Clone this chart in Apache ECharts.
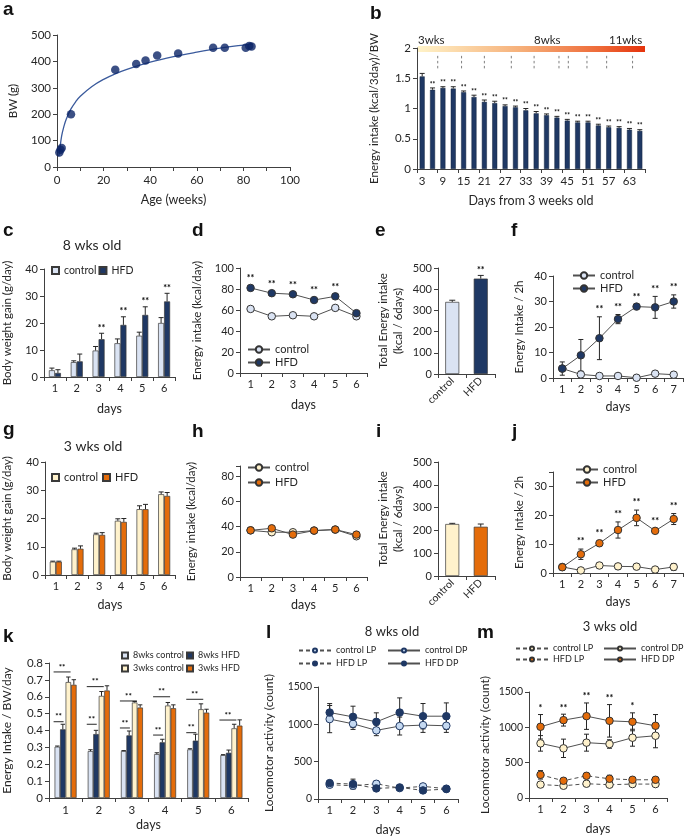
<!DOCTYPE html>
<html><head><meta charset="utf-8">
<script src="https://cdn.jsdelivr.net/npm/echarts@6/dist/echarts.min.js"></script>
<style>html,body{margin:0;padding:0;background:#fff}#c{width:685px;height:837px}</style>
</head><body><div id="c"></div>
<script>
// ---------------- DATA ----------------
// a
const aAge = [1, 1.5, 2, 6, 25, 34, 38, 43, 52, 67, 72, 81, 82.5, 83.5];
const aBW = [55, 65, 72, 200, 368, 390, 403, 422, 430, 452, 452, 452, 458, 456];
const aFitAge = [0.7, 1, 2, 3, 4, 6, 8, 10, 15, 20, 25, 30, 40, 50, 60, 70, 80, 84];
const aFitBW = [40, 55, 118, 155, 182, 220, 247, 268, 305, 332, 353, 370, 397, 418, 435, 450, 462, 466];
// b
const bDays = ['3','6','9','12','15','18','21','24','27','30','33','36','39','42','45','48','51','54','57','60','63','66'];
const bVals = [1.53,1.31,1.34,1.33,1.27,1.19,1.11,1.09,1.04,1.02,0.97,0.92,0.89,0.85,0.80,0.77,0.77,0.72,0.69,0.68,0.65,0.63];
const bErr = [0.05,0.03,0.02,0.03,0.02,0.03,0.03,0.03,0.02,0.02,0.03,0.03,0.02,0.02,0.02,0.02,0.02,0.02,0.02,0.02,0.02,0.02];
const bSig = ['','**','**','**','**','**','**','**','**','**','**','**','**','**','**','**','**','**','**','**','**','**'];
const bWeekMarks = [2.0, 4.3, 6.5, 9.1, 11.3, 13.7, 14.6, 16.4, 18.3, 20.8];
const bAgeLabels = ['3wks', '8wks', '11wks'];
// shared
const days6 = ['1','2','3','4','5','6'];
const days7 = ['1','2','3','4','5','6','7'];
const groups = ['control', 'HFD'];
// c
const cCtrl = [2.5, 5.5, 9.8, 12.5, 15.3, 20.0];
const cCtrlErr = [0.8, 0.5, 1.5, 1.6, 1.3, 2.0];
const cHFD = [1.5, 5.8, 14.0, 19.3, 23.0, 28.0];
const cHFDErr = [1.2, 2.7, 2.2, 3.0, 3.0, 3.0];
const cSig = ['', '', '**', '**', '**', '**'];
// d
const dCtrl = [61, 54, 55, 54, 62, 54];
const dHFD = [81, 76, 75, 69.5, 73, 57];
const dSig = ['**', '**', '**', '**', '**', ''];
// e
const eVals = [340, 450];
const eErr = [8, 15];
const eSig = ['', '**'];
// f
const fCtrl = [3.7, 1.4, 0.8, 0.8, 0.1, 1.7, 1.3];
const fCtrlErr = [0.5, 0.4, 0.3, 0.3, 0.2, 0.6, 0.4];
const fHFD = [3.7, 8.9, 15.6, 23.1, 28.0, 27.7, 30.0];
const fHFDErr = [2.6, 6.2, 8.4, 1.8, 0.8, 4.3, 2.6];
const fSig = ['', '', '**', '**', '**', '**', '**'];
// g
const gCtrl = [4.7, 9.1, 14.4, 19.2, 23.3, 28.6];
const gCtrlErr = [0.2, 0.4, 0.4, 0.7, 1.2, 0.8];
const gHFD = [4.7, 9.3, 14.2, 18.8, 23.3, 28.0];
const gHFDErr = [0.2, 1.0, 0.8, 1.2, 1.7, 1.2];
// h
const hCtrl = [37, 35.5, 35.5, 36.8, 37.6, 32.3];
const hHFD = [37, 38.6, 33.6, 36.8, 37.6, 33.6];
// i
const iVals = [228, 216];
const iErr = [3, 12];
// j
const jCtrl = [2.1, 0.9, 2.6, 2.3, 2.2, 1.2, 2.1];
const jCtrlErr = [0.6, 0.5, 1.0, 1.0, 1.0, 0.5, 1.2];
const jHFD = [2.0, 6.5, 10.3, 14.9, 19.1, 14.6, 18.7];
const jHFDErr = [1.0, 1.8, 1.0, 2.8, 2.7, 0.8, 1.9];
const jSig = ['', '**', '**', '**', '**', '**', '**'];
// k
const k8Ctrl = [0.304, 0.278, 0.278, 0.260, 0.288, 0.254];
const k8CtrlErr = [0.004, 0.008, 0.003, 0.008, 0.004, 0.003];
const k8HFD = [0.407, 0.379, 0.371, 0.330, 0.340, 0.268];
const k8HFDErr = [0.030, 0.022, 0.026, 0.018, 0.038, 0.016];
const k3Ctrl = [0.687, 0.605, 0.566, 0.548, 0.526, 0.413];
const k3CtrlErr = [0.030, 0.026, 0.006, 0.018, 0.032, 0.024];
const k3HFD = [0.671, 0.637, 0.536, 0.532, 0.506, 0.429];
const k3HFDErr = [0.030, 0.028, 0.016, 0.020, 0.020, 0.034];
const kBrLow = [0.452, 0.437, 0.415, 0.373, 0.387, null];
const kBrUp = [0.747, 0.660, 0.575, 0.600, 0.585, 0.462];
// l
const lCtrlLP = [191, 178, 204, 146, 169, 138];
const lCtrlLPErr = [30, 40, 40, 25, 30, 25];
const lHFDLP = [213, 200, 142, 155, 115, 133];
const lHFDLPErr = [30, 66, 30, 25, 30, 25];
const lCtrlDP = [1070, 1007, 919, 977, 990, 981];
const lCtrlDPErr = [182, 75, 71, 120, 98, 89];
const lHFDDP = [1158, 1100, 1033, 1158, 1109, 1109];
const lHFDDPErr = [120, 143, 121, 196, 170, 178];
// m
const mCtrlLP = [190, 173, 202, 188, 197, 197];
const mCtrlLPErr = [35, 35, 40, 30, 30, 30];
const mHFDLP = [328, 244, 314, 272, 258, 258];
const mHFDLPErr = [60, 35, 40, 50, 35, 40];
const mCtrlDP = [773, 703, 783, 764, 853, 881];
const mCtrlDPErr = [110, 130, 120, 60, 120, 170];
const mHFDDP = [1008, 1102, 1158, 1092, 1078, 1022];
const mHFDDPErr = [173, 84, 187, 230, 127, 159];
const mSig = ['*', '**', '**', '**', '*', ''];

// ---------------- STYLE / HELPERS ----------------
const FONT = 'Lato, "Open Sans", "DejaVu Sans", sans-serif';
const AX = '#404040', TXT = '#262626';
const NAVY = '#1f3864', LBLUE = '#dae3f3', LBLUE2 = '#c5d9f1', CREAM = '#fff2cc', ORANGE = '#e46c0a';

const grids = [], xAxes = [], yAxes = [], series = [], legends = [], graphics = [];
function lbl(sz) { return { color: TXT, fontSize: sz || 11, fontFamily: FONT }; }
function merge(a, b) {
  if (!b) return a;
  for (const k in b) {
    if (b[k] && typeof b[k] === 'object' && !Array.isArray(b[k]) && a[k] && typeof a[k] === 'object') merge(a[k], b[k]);
    else a[k] = b[k];
  }
  return a;
}
const plain = v => String(v);
function addGrid(left, top, width, height) { grids.push({ left, top, width, height, containLabel: false }); return grids.length - 1; }
function xCat(gi, cats, name, gap, extra) {
  xAxes.push(merge({ type: 'category', gridIndex: gi, data: cats, boundaryGap: true,
    axisLine: { show: true, lineStyle: { color: AX } }, axisTick: { show: true, length: 4, lineStyle: { color: AX } },
    axisLabel: merge(lbl(11), { margin: 6 }), splitLine: { show: false },
    name: name || '', nameLocation: 'middle', nameGap: gap || 25, nameTextStyle: lbl(12.5) }, extra));
  return xAxes.length - 1;
}
function yVal(gi, min, max, interval, name, gap, extra) {
  yAxes.push(merge({ type: 'value', gridIndex: gi, min, max, interval,
    axisLine: { show: true, lineStyle: { color: AX } }, axisTick: { show: true, length: 4, lineStyle: { color: AX } },
    axisLabel: merge(lbl(11), { margin: 6, formatter: plain }), splitLine: { show: false },
    name: name || '', nameLocation: 'middle', nameGap: gap, nameRotate: 90, nameTextStyle: lbl(11.5) }, extra));
  return yAxes.length - 1;
}
function barS(name, xi, yi, data, color, width, extra) {
  series.push(merge({ type: 'bar', name, xAxisIndex: xi, yAxisIndex: yi, data, barWidth: width, barGap: '0%', z: 2,
    itemStyle: { color, borderColor: '#3a3a3a', borderWidth: 0.7 }, emphasis: { disabled: true }, silent: true }, extra));
}
function lineS(name, xi, yi, data, fill, opt) {
  opt = opt || {};
  series.push({ type: 'line', name, xAxisIndex: xi, yAxisIndex: yi, data, symbol: 'circle', symbolSize: opt.size || 7.5,
    showSymbol: true, z: 4, silent: true,
    lineStyle: { color: opt.lineColor || '#505050', width: 1, type: opt.dash ? [4, 3] : 'solid' },
    itemStyle: { color: fill, borderColor: opt.border || '#333', borderWidth: 1 }, emphasis: { disabled: true } });
}
function errBars(xi, yi, vals, errs, o) {
  o = o || {};
  series.push({ type: 'custom', xAxisIndex: xi, yAxisIndex: yi, z: o.z || 5, silent: true,
    data: vals.map((v, i) => [i, v, errs ? errs[i] : 0]), encode: { x: 0, y: 1 },
    renderItem(params, api) {
      const i = api.value(0), v = api.value(1), e = api.value(2);
      const base = api.coord([i, v]);
      const x = base[0] + (o.off || 0);
      const top = api.coord([i, v + e])[1];
      const bot = o.both ? api.coord([i, v - e])[1] : base[1];
      const c = o.cap || 2.5;
      const st = { stroke: o.color || '#262626', lineWidth: 1 };
      const ch = [];
      if (e > 0) {
        ch.push({ type: 'line', shape: { x1: x, y1: top, x2: x, y2: bot }, style: st });
        ch.push({ type: 'line', shape: { x1: x - c, y1: top, x2: x + c, y2: top }, style: st });
        if (o.both) ch.push({ type: 'line', shape: { x1: x - c, y1: bot, x2: x + c, y2: bot }, style: st });
      }
      const s = o.sig && o.sig[params.dataIndex];
      if (s) ch.push({ type: 'text', style: { text: s, x: x, y: Math.min(top, base[1] - (o.sigMin || 0)) - (o.sigGap == null ? 1 : o.sigGap),
        textAlign: 'center', textVerticalAlign: 'bottom', fill: '#000', font: 'bold ' + (o.sigSize || 9) + 'px ' + FONT } });
      return { type: 'group', children: ch };
    } });
}
function legend(names, left, top, o) {
  legends.push(merge({ data: names, left, top, orient: 'vertical', padding: 0, itemGap: 2, itemWidth: 22, itemHeight: 8,
    selectedMode: false, textStyle: lbl(11), formatter: n => n.split('|')[1] }, o));
}
function text(t, x, y, font, align, extra) {
  graphics.push(merge({ type: 'text', silent: true, style: { text: t, x, y, font, fill: TXT, textAlign: align || 'left', textVerticalAlign: 'middle' } }, extra));
}

// ---------------- PANEL a ----------------
{
  const g = addGrid(57, 35, 233, 132);
  const xi = xAxes.push({ type: 'value', gridIndex: g, min: 0, max: 100, interval: 20,
    axisLine: { show: true, lineStyle: { color: AX } }, axisTick: { show: true, length: 4, lineStyle: { color: AX } },
    minorTick: { show: true, splitNumber: 2, length: 4, lineStyle: { color: AX } },
    axisLabel: merge(lbl(11.5), { margin: 7 }), splitLine: { show: false },
    name: 'Age (weeks)', nameLocation: 'middle', nameGap: 26, nameTextStyle: lbl(12.5) }) - 1;
  const yi = yVal(g, 0, 500, 100, 'BW (g)', 38, { axisLabel: { fontSize: 11.5 } });
  series.push({ type: 'line', xAxisIndex: xi, yAxisIndex: yi, data: aFitAge.map((a, i) => [a, aFitBW[i]]), smooth: 0.4,
    showSymbol: false, silent: true, z: 2, lineStyle: { color: '#3a5a9c', width: 1.3 } });
  series.push({ type: 'scatter', xAxisIndex: xi, yAxisIndex: yi, data: aAge.map((a, i) => [a, aBW[i]]), symbolSize: 8.5,
    silent: true, z: 3, itemStyle: { color: '#0b2466' } });
}
// ---------------- PANEL b ----------------
{
  const g = addGrid(417, 48, 228, 121);
  const xi = xCat(g, bDays, 'Days from 3 weeks old', 25, { axisLabel: { interval: 1, fontSize: 11.5 }, axisTick: { interval: 1 } });
  const yi = yVal(g, 0, 2, 0.5, 'Energy intake (kcal/3day)/BW', 37, { axisLabel: { fontSize: 11.5 } });
  const xh = xAxes.push({ type: 'value', gridIndex: g, min: 0, max: 22, show: false }) - 1;
  barS('b|bars', xi, yi, bVals, NAVY, 5, { itemStyle: { borderColor: '#16263f', borderWidth: 0.5 } });
  errBars(xi, yi, bVals, bErr, { sig: bSig, sigSize: 6.5, sigGap: 0, cap: 2.5 });
  series.push({ type: 'custom', xAxisIndex: xh, yAxisIndex: yi, silent: true, z: 3,
    data: bWeekMarks.map(p => [p, 1.87]), encode: { x: 0, y: 1 },
    renderItem(params, api) {
      const p1 = api.coord([api.value(0), 1.87]), p2 = api.coord([api.value(0), 1.64]);
      return { type: 'line', shape: { x1: p1[0], y1: p1[1], x2: p2[0], y2: p2[1] }, style: { stroke: '#7f7f7f', lineWidth: 1, lineDash: [2.5, 2.5] } };
    } });
  graphics.push({ type: 'rect', silent: true, shape: { x: 418, y: 46, width: 227, height: 6 },
    style: { fill: new echarts.graphic.LinearGradient(0, 0, 1, 0, [
      { offset: 0, color: '#fff3c8' }, { offset: 0.45, color: '#f6b07a' }, { offset: 0.8, color: '#ee6a38' }, { offset: 1, color: '#e5330c' }]) } });
  text(bAgeLabels[0], 418, 40, '11.5px ' + FONT);
  text(bAgeLabels[1], 534, 40, '11.5px ' + FONT);
  text(bAgeLabels[2], 609, 40, '11.5px ' + FONT);
}
// ---------------- PANEL c ----------------
{
  const g = addGrid(41, 269, 134, 108);
  const xi = xCat(g, days6, 'days', 25);
  const yi = yVal(g, 0, 40, 10, 'Body weight gain (g/day)', 31);
  barS('c|control', xi, yi, cCtrl, LBLUE, 6);
  barS('c|HFD', xi, yi, cHFD, NAVY, 6);
  errBars(xi, yi, cCtrl, cCtrlErr, { off: -3, cap: 2.5 });
  errBars(xi, yi, cHFD, cHFDErr, { off: 3, cap: 2.5, sig: cSig, sigSize: 9 });
  legends.push({ data: ['c|control', 'c|HFD'], left: 51, top: 265, orient: 'horizontal', padding: 0, itemGap: 2, itemWidth: 7, itemHeight: 7,
    icon: 'rect', selectedMode: false, textStyle: lbl(10.5), formatter: n => n.split('|')[1] });
  text('8 wks old', 92, 245, '14px ' + FONT, 'center');
}
// ---------------- PANEL d ----------------
{
  const g = addGrid(240, 268, 127, 105);
  const xi = xCat(g, days6, 'days', 25);
  const yi = yVal(g, 0, 100, 20, 'Energy intake (kcal/day)', 37);
  lineS('d|control', xi, yi, dCtrl, LBLUE);
  lineS('d|HFD', xi, yi, dHFD, NAVY);
  errBars(xi, yi, dHFD, null, { sig: dSig, sigMin: 4, sigGap: 1 });
  legend(['d|control', 'd|HFD'], 247, 344, {});
}
// ---------------- PANEL e ----------------
{
  const g = addGrid(438, 268, 57, 106);
  const xi = xCat(g, groups, '', 0, { axisLabel: { rotate: 45, fontSize: 10.5, margin: 5 } });
  const yi = yVal(g, 0, 500, 100, 'Total Energy intake\n(kcal / 6days)', 32, { nameTextStyle: { lineHeight: 15 } });
  series.push({ type: 'bar', xAxisIndex: xi, yAxisIndex: yi, barWidth: 14, z: 2, silent: true,
    data: eVals.map((v, i) => ({ value: v, itemStyle: { color: i ? NAVY : LBLUE } })),
    itemStyle: { borderColor: '#3a3a3a', borderWidth: 0.7 } });
  errBars(xi, yi, eVals, eErr, { cap: 3, sig: eSig, sigSize: 9 });
}
// ---------------- PANEL f ----------------
{
  const g = addGrid(553, 276, 130, 102);
  const xi = xCat(g, days7, 'days', 22);
  const yi = yVal(g, 0, 40, 10, 'Energy Intake / 2h', 28);
  errBars(xi, yi, fCtrl, fCtrlErr, { both: true, z: 3 });
  errBars(xi, yi, fHFD, fHFDErr, { both: true, z: 3, sig: fSig, sigSize: 9, sigGap: 3 });
  lineS('f|control', xi, yi, fCtrl, LBLUE);
  lineS('f|HFD', xi, yi, fHFD, NAVY);
  legend(['f|control', 'f|HFD'], 572, 270, {});
}
// ---------------- PANEL g ----------------
{
  const g = addGrid(42, 462, 133, 113);
  const xi = xCat(g, days6, 'days', 23);
  const yi = yVal(g, 0, 40, 10, 'Body weight gain (g/day)', 32);
  barS('g|control', xi, yi, gCtrl, CREAM, 6);
  barS('g|HFD', xi, yi, gHFD, ORANGE, 6);
  errBars(xi, yi, gCtrl, gCtrlErr, { off: -3 });
  errBars(xi, yi, gHFD, gHFDErr, { off: 3 });
  legends.push({ data: ['g|control', 'g|HFD'], left: 51, top: 472, orient: 'horizontal', padding: 0, itemGap: 4, itemWidth: 7, itemHeight: 7,
    icon: 'rect', selectedMode: false, textStyle: lbl(11), formatter: n => n.split('|')[1] });
  text('3 wks old', 93, 446, '14px ' + FONT, 'center');
}
// ---------------- PANEL h ----------------
{
  const g = addGrid(240, 466, 127, 111);
  const xi = xCat(g, days6, 'days', 21);
  const yi = yVal(g, 0, 88, 20, 'Energy intake (kcal/day)', 43, { axisLabel: { formatter: v => (v % 20 === 0 ? String(v) : '') } });
  lineS('h|control', xi, yi, hCtrl, CREAM);
  lineS('h|HFD', xi, yi, hHFD, ORANGE);
  legend(['h|control', 'h|HFD'], 247, 462, { itemGap: 4 });
}
// ---------------- PANEL i ----------------
{
  const g = addGrid(438, 462, 57, 114);
  const xi = xCat(g, groups, '', 0, { axisLabel: { rotate: 45, fontSize: 10.5, margin: 5 } });
  const yi = yVal(g, 0, 500, 100, 'Total Energy intake\n(kcal / 6days)', 32, { nameTextStyle: { lineHeight: 15 } });
  series.push({ type: 'bar', xAxisIndex: xi, yAxisIndex: yi, barWidth: 14, z: 2, silent: true,
    data: iVals.map((v, i) => ({ value: v, itemStyle: { color: i ? ORANGE : CREAM } })),
    itemStyle: { borderColor: '#3a3a3a', borderWidth: 0.7 } });
  errBars(xi, yi, iVals, iErr, { cap: 3 });
}
// ---------------- PANEL j ----------------
{
  const g = addGrid(553, 472, 130, 101);
  const xi = xCat(g, days7, 'days', 22);
  const yi = yVal(g, 0, 35, 10, 'Energy Intake / 2h', 28, { axisLabel: { formatter: v => (v % 10 === 0 ? String(v) : '') } });
  errBars(xi, yi, jCtrl, jCtrlErr, { both: true, z: 3 });
  errBars(xi, yi, jHFD, jHFDErr, { both: true, z: 3, sig: jSig, sigSize: 9, sigGap: 3 });
  lineS('j|control', xi, yi, jCtrl, CREAM);
  lineS('j|HFD', xi, yi, jHFD, ORANGE);
  legend(['j|control', 'j|HFD'], 575, 464, {});
}
// ---------------- PANEL k ----------------
{
  const g = addGrid(49, 663, 199, 135);
  const xi = xCat(g, days6, 'days', 20, { axisLabel: { fontSize: 11.5 } });
  const yi = yVal(g, 0, 0.8, 0.1, 'Energy Intake / BW/day', 36, { axisLabel: { fontSize: 11.5 }, nameTextStyle: { fontSize: 12 } });
  barS('k|8wks control', xi, yi, k8Ctrl, LBLUE, 5.5);
  barS('k|8wks HFD', xi, yi, k8HFD, NAVY, 5.5);
  barS('k|3wks control', xi, yi, k3Ctrl, CREAM, 5.5);
  barS('k|3wks HFD', xi, yi, k3HFD, ORANGE, 5.5);
  errBars(xi, yi, k8Ctrl, k8CtrlErr, { off: -8.25, cap: 2.2 });
  errBars(xi, yi, k8HFD, k8HFDErr, { off: -2.75, cap: 2.2 });
  errBars(xi, yi, k3Ctrl, k3CtrlErr, { off: 2.75, cap: 2.2 });
  errBars(xi, yi, k3HFD, k3HFDErr, { off: 8.25, cap: 2.2 });
  series.push({ type: 'custom', xAxisIndex: xi, yAxisIndex: yi, silent: true, z: 6,
    data: kBrUp.map((v, i) => [i, v]), encode: { x: 0, y: 1 },
    renderItem(params, api) {
      const i = api.value(0), up = api.value(1), low = kBrLow[params.dataIndex];
      const cx = api.coord([i, 0])[0];
      const ch = [];
      const st = { stroke: '#262626', lineWidth: 1 };
      const add = (val, x1, x2) => {
        const y = api.coord([i, val])[1];
        ch.push({ type: 'line', shape: { x1, y1: y, x2, y2: y }, style: st });
        ch.push({ type: 'text', style: { text: '**', x: (x1 + x2) / 2, y: y - 1, textAlign: 'center', textVerticalAlign: 'bottom', fill: '#000', font: 'bold 8px ' + FONT } });
      };
      add(up, cx - 12, cx + 5);
      if (low != null) add(low, cx - 12, cx - 2);
      return { type: 'group', children: ch };
    } });
  legend(['k|8wks control', 'k|3wks control'], 121, 651, { icon: 'rect', itemWidth: 6, itemHeight: 6, itemGap: 4, textStyle: { fontSize: 9 } });
  legend(['k|8wks HFD', 'k|3wks HFD'], 186, 651, { icon: 'rect', itemWidth: 6, itemHeight: 6, itemGap: 4, textStyle: { fontSize: 9 } });
}
// ---------------- PANEL l ----------------
{
  const g = addGrid(318, 687, 140, 112);
  const xi = xCat(g, days6, 'days', 24, { axisLabel: { fontSize: 11 } });
  const yi = yVal(g, 0, 1500, 500, 'Locomotor activity (count)', 43, { axisLabel: { fontSize: 10.5 }, nameTextStyle: { fontSize: 12 } });
  errBars(xi, yi, lCtrlLP, lCtrlLPErr, { both: true, z: 3 });
  errBars(xi, yi, lHFDLP, lHFDLPErr, { both: true, z: 3 });
  errBars(xi, yi, lCtrlDP, lCtrlDPErr, { both: true, z: 3 });
  errBars(xi, yi, lHFDDP, lHFDDPErr, { both: true, z: 3 });
  lineS('l|control LP', xi, yi, lCtrlLP, LBLUE2, { dash: true, border: NAVY });
  lineS('l|HFD LP', xi, yi, lHFDLP, NAVY, { dash: true, border: NAVY });
  lineS('l|control DP', xi, yi, lCtrlDP, LBLUE2, { border: NAVY });
  lineS('l|HFD DP', xi, yi, lHFDDP, NAVY, { border: NAVY });
  legend(['l|control LP', 'l|HFD LP'], 298, 646, { itemWidth: 32, itemHeight: 5, itemGap: 4, textStyle: { fontSize: 9 } });
  legend(['l|control DP', 'l|HFD DP'], 387, 646, { itemWidth: 32, itemHeight: 5, itemGap: 4, textStyle: { fontSize: 9 } });
  text('8 wks old', 392, 632, '13px ' + FONT, 'center');
}
// ---------------- PANEL m ----------------
{
  const g = addGrid(529, 692, 138, 106);
  const xi = xCat(g, days6, 'days', 24, { axisLabel: { fontSize: 11 } });
  const yi = yVal(g, 0, 1500, 500, 'Locomotor activity (count)', 38, { axisLabel: { fontSize: 10.5 }, nameTextStyle: { fontSize: 12 } });
  errBars(xi, yi, mCtrlLP, mCtrlLPErr, { both: true, z: 3 });
  errBars(xi, yi, mHFDLP, mHFDLPErr, { both: true, z: 3 });
  errBars(xi, yi, mCtrlDP, mCtrlDPErr, { both: true, z: 3 });
  errBars(xi, yi, mHFDDP, mHFDDPErr, { both: true, z: 3, sig: mSig, sigSize: 9, sigGap: 2 });
  lineS('m|control LP', xi, yi, mCtrlLP, CREAM, { dash: true });
  lineS('m|HFD LP', xi, yi, mHFDLP, ORANGE, { dash: true });
  lineS('m|control DP', xi, yi, mCtrlDP, CREAM);
  lineS('m|HFD DP', xi, yi, mHFDDP, ORANGE);
  legend(['m|control LP', 'm|HFD LP'], 515, 644, { itemWidth: 32, itemHeight: 5, itemGap: 2, textStyle: { fontSize: 9 } });
  legend(['m|control DP', 'm|HFD DP'], 603, 644, { itemWidth: 32, itemHeight: 5, itemGap: 2, textStyle: { fontSize: 9 } });
  text('3 wks old', 610, 627, '13px ' + FONT, 'center');
}
// ---------------- panel letters ----------------
[['a', 3, 10], ['b', 370, 14], ['c', 3, 231], ['d', 192, 231], ['e', 375, 231], ['f', 511, 231],
 ['g', 3, 430], ['h', 192, 432], ['i', 376, 432], ['j', 512, 432], ['k', 3, 637], ['l', 266, 633], ['m', 477, 633]]
  .forEach(([t, x, y]) => text(t, x, y, 'bold 19px "Liberation Sans", Arial, sans-serif', 'left', { style: { fill: '#111' } }));

const chart = echarts.init(document.getElementById('c'), null, { renderer: 'canvas' });
chart.setOption({ animation: false, backgroundColor: '#fff', textStyle: { fontFamily: FONT },
  grid: grids, xAxis: xAxes, yAxis: yAxes, series, legend: legends, graphic: graphics });
</script>
</body></html>
